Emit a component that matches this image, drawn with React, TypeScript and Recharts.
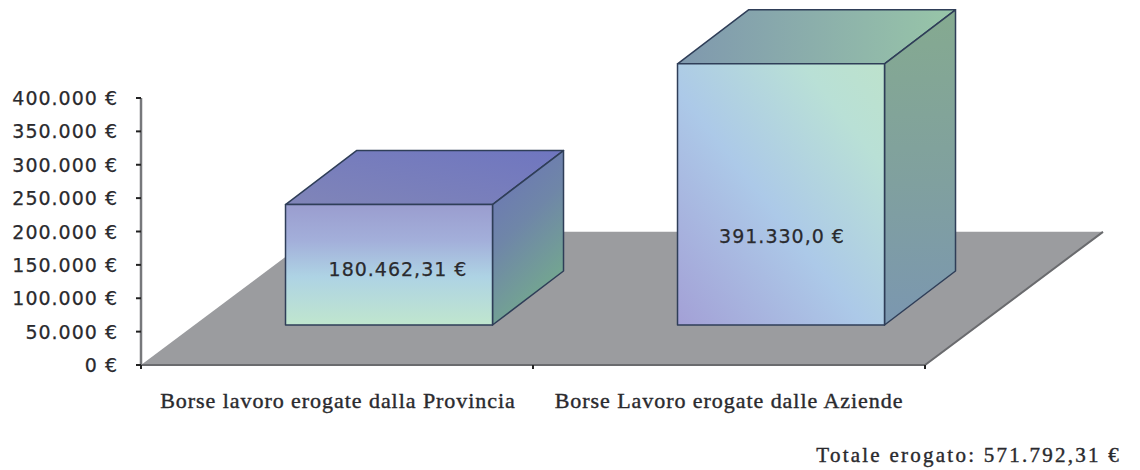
import React from "react";
import { BarChart, Bar, XAxis, YAxis, ReferenceArea, LabelList } from "recharts";

const categories = ["Borse lavoro erogate dalla Provincia", "Borse Lavoro erogate dalle Aziende"];
const erogato = [180462.31, 391330];
const valueLabels = ["180.462,31 €", "391.330,0 €"];
const yTicks = [0, 50000, 100000, 150000, 200000, 250000, 300000, 350000, 400000];
const yTickLabels = ["0 €", "50.000 €", "100.000 €", "150.000 €", "200.000 €", "250.000 €", "300.000 €", "350.000 €", "400.000 €"];
const floorDepthValue = 199500;
const totalLabel = "Totale erogato: 571.792,31 €";

const rows = categories.map((name, i) => ({ name, value: erogato[i], label: valueLabels[i] }));

const W = 1140, H = 470;
const LIFT = 40, SHIFT = 52, DX = 71, DY = 54;
const EDGE = "#2f3e58";
const INK = "#2a2a2e";
const SANS = "'DejaVu Sans', sans-serif";
const SERIF = "'Liberation Serif', serif";
const labelRise = [56, 89];
const labelShift = [9, 1];

const Floor = (p: any) => {
  const { x, y, width, height } = p;
  const b = y + height;
  const d = `M${x},${b} L${x + width},${b} L${x + width + 178},${y} L${x + 178},${y} Z`;
  return (
    <g>
      <path d={d} fill="#9b9c9f" />
      <path d={`M${x},${b} L${x + width},${b} L${x + width + 178},${y}`} stroke="#6a6b6e" strokeWidth={2} fill="none" />
    </g>
  );
};

const Box = (p: any) => {
  const { x, y, width, height, index } = p;
  const l = x + SHIFT, r = l + width;
  const t = y - LIFT, b = t + height;
  const s = index === 0 ? "a" : "b";
  return (
    <g stroke={EDGE} strokeWidth={1.5} strokeLinejoin="round">
      <path d={`M${l},${t} L${l + DX},${t - DY} L${r + DX},${t - DY} L${r},${t} Z`} fill={`url(#top-${s})`} />
      <path d={`M${r},${t} L${r + DX},${t - DY} L${r + DX},${b - DY} L${r},${b} Z`} fill={`url(#side-${s})`} />
      <rect x={l} y={t} width={width} height={height} fill={`url(#front-${s})`} />
    </g>
  );
};

const ValueLabel = (p: any) => {
  const { x, y, width, height, index, value } = p;
  return (
    <text
      x={x + SHIFT + width / 2 + labelShift[index]}
      y={y - LIFT + height - labelRise[index]}
      textAnchor="middle"
      dominantBaseline="central"
      fontFamily={SANS}
      fontSize={19}
      letterSpacing={1}
      stroke={INK}
      strokeWidth={0.25}
      fill={INK}
    >
      {value}
    </text>
  );
};

const XTick = (p: any) => {
  const { x, y, payload, index } = p;
  const half = 196;
  const labelX = index === 0 ? x + 1 : x;
  return (
    <g>
      <line x1={x - half} x2={x - half} y1={y - 8} y2={y - 4} stroke="#222" strokeWidth={2} />
      <line x1={x + half} x2={x + half} y1={y - 8} y2={y - 4} stroke="#222" strokeWidth={2} />
      <text x={labelX} y={y + 35} textAnchor="middle" fontFamily={SERIF} fontSize={22} letterSpacing={0.95} stroke={INK} strokeWidth={0.4} fill={INK}>
        {payload.value}
      </text>
    </g>
  );
};

const YTick = (p: any) => {
  const { y, index } = p;
  return (
    <text x={118} y={y} textAnchor="end" dominantBaseline="central" fontFamily={SANS} fontSize={19} letterSpacing={1} stroke={INK} strokeWidth={0.25} fill={INK}>
      {yTickLabels[index]}
    </text>
  );
};

export default function App() {
  return (
    <div style={{ position: "relative", width: W, height: H, background: "#fff", overflow: "hidden" }}>
      <style>{"body{margin:0}"}</style>
      <BarChart width={W} height={H} data={rows} barCategoryGap="23.6%" margin={{ top: 98, right: 215, bottom: 0, left: 0 }}>
        <defs>
          <linearGradient id="front-a" x1="0" y1="0" x2="0" y2="1">
            <stop offset="0" stopColor="#9a9dcf" />
            <stop offset="0.3" stopColor="#a3afda" />
            <stop offset="0.6" stopColor="#aed3e4" />
            <stop offset="1" stopColor="#c0e6ce" />
          </linearGradient>
          <linearGradient id="side-a" x1="0" y1="0" x2="0.4" y2="1">
            <stop offset="0" stopColor="#6b72b9" />
            <stop offset="0.5" stopColor="#6f86a8" />
            <stop offset="1" stopColor="#74a98e" />
          </linearGradient>
          <linearGradient id="top-a" x1="0" y1="1" x2="1" y2="0">
            <stop offset="0" stopColor="#8085b8" />
            <stop offset="1" stopColor="#6f76c0" />
          </linearGradient>
          <linearGradient id="front-b" x1="0" y1="1" x2="1" y2="0">
            <stop offset="0" stopColor="#a3a0d6" />
            <stop offset="0.45" stopColor="#acc9e8" />
            <stop offset="0.8" stopColor="#b9e0d6" />
            <stop offset="1" stopColor="#bde2cc" />
          </linearGradient>
          <linearGradient id="side-b" x1="0" y1="0" x2="0" y2="1">
            <stop offset="0" stopColor="#85aa90" />
            <stop offset="0.55" stopColor="#80a09f" />
            <stop offset="1" stopColor="#7b97b0" />
          </linearGradient>
          <linearGradient id="top-b" x1="0" y1="0" x2="1" y2="0">
            <stop offset="0" stopColor="#7f98ae" />
            <stop offset="1" stopColor="#98c6a8" />
          </linearGradient>
        </defs>
        <XAxis
          dataKey="name"
          height={105}
          tick={<XTick />}
          tickLine={false}
          axisLine={false}
          interval={0}
        />
        <YAxis
          width={141}
          domain={[0, 400000]}
          ticks={yTicks}
          interval={0}
          tick={<YTick />}
          tickSize={5}
          tickLine={{ stroke: "#222", strokeWidth: 2 }}
          axisLine={{ stroke: "#77787b", strokeWidth: 2.5 }}
        />
        <ReferenceArea y1={0} y2={floorDepthValue} shape={<Floor />} ifOverflow="visible" />
        <Bar dataKey="value" shape={<Box />} isAnimationActive={false}>
          <LabelList dataKey="label" content={<ValueLabel />} />
        </Bar>
      </BarChart>
      <div style={{ position: "absolute", right: 19, top: 443, fontFamily: SERIF, fontSize: 21, letterSpacing: 2.25, WebkitTextStroke: "0.4px " + INK, color: INK, whiteSpace: "nowrap" }}>
        {totalLabel}
      </div>
    </div>
  );
}
